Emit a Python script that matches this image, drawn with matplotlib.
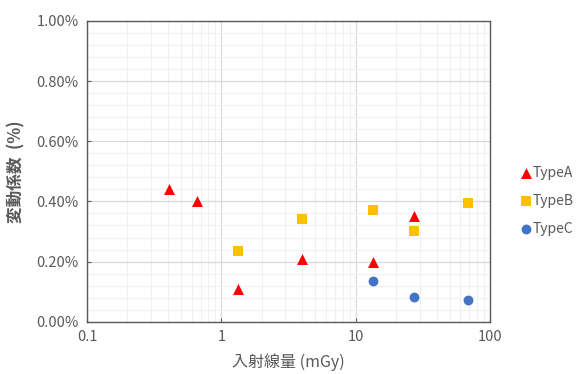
import numpy as np
import matplotlib
matplotlib.use("Agg")
import matplotlib.pyplot as plt
from matplotlib.ticker import MultipleLocator, FuncFormatter, LogLocator

plt.rcParams['font.family'] = ['Noto Sans CJK JP', 'DejaVu Sans']

# dose (mGy) and coefficient of variation (%)
typeA_x = [0.41, 0.66, 1.34, 4.0, 13.5, 27.4]
typeA_y = [0.44, 0.40, 0.11, 0.21, 0.20, 0.35]
typeB_x = [1.34, 4.0, 13.5, 27.4, 69.0]
typeB_y = [0.235, 0.34, 0.373, 0.302, 0.394]
typeC_x = [13.5, 27.4, 69.0]
typeC_y = [0.136, 0.081, 0.072]

grey = '#595959'

fig = plt.figure(figsize=(5.77, 3.74), dpi=100)
ax = fig.add_axes([0.1508, 0.1398, 0.6984, 0.8041])

ax.scatter(typeA_x, typeA_y, marker='^', s=62, color='#FF0000', label='TypeA', zorder=3, linewidths=0)
ax.scatter(typeB_x, typeB_y, marker='s', s=50, color='#FFC000', label='TypeB', zorder=3, linewidths=0)
ax.scatter(typeC_x, typeC_y, marker='o', s=50, color='#4472C4', label='TypeC', zorder=3, linewidths=0)

ax.set_xscale('log')
ax.set_xlim(0.1, 100)
ax.set_ylim(0, 1.0)
ax.yaxis.set_major_locator(MultipleLocator(0.2))
ax.yaxis.set_minor_locator(MultipleLocator(0.04))
ax.yaxis.set_major_formatter(FuncFormatter(lambda v, p: f"{v:.2f}%"))
ax.xaxis.set_major_formatter(FuncFormatter(lambda v, p: f"{v:g}"))
ax.xaxis.set_minor_locator(LogLocator(base=10, subs=np.arange(2, 10)))

ax.grid(True, which='major', color='#D9D9D9', lw=0.9)
ax.grid(True, which='minor', color='#F0F0F0', lw=0.8)
ax.set_axisbelow(True)

for s in ax.spines.values():
    s.set_color(grey)
    s.set_linewidth(1.0)

ax.tick_params(which='major', direction='in', length=3, color=grey, labelcolor=grey, labelsize=10.5, pad=6)
ax.tick_params(which='minor', length=0)

ax.set_xlabel('入射線量 (mGy)', color=grey, fontsize=11.5, labelpad=7)
ax.set_ylabel('変動係数  (%)', color=grey, fontsize=12, fontweight='bold', labelpad=8)

fig.legend(loc='center left', bbox_to_anchor=(0.878, 0.463), frameon=False,
           handletextpad=0.0, labelspacing=1.0, markerscale=1.0,
           prop={'size': 10}, labelcolor=grey, handlelength=1.0)

fig.savefig('out.png', dpi=100)
